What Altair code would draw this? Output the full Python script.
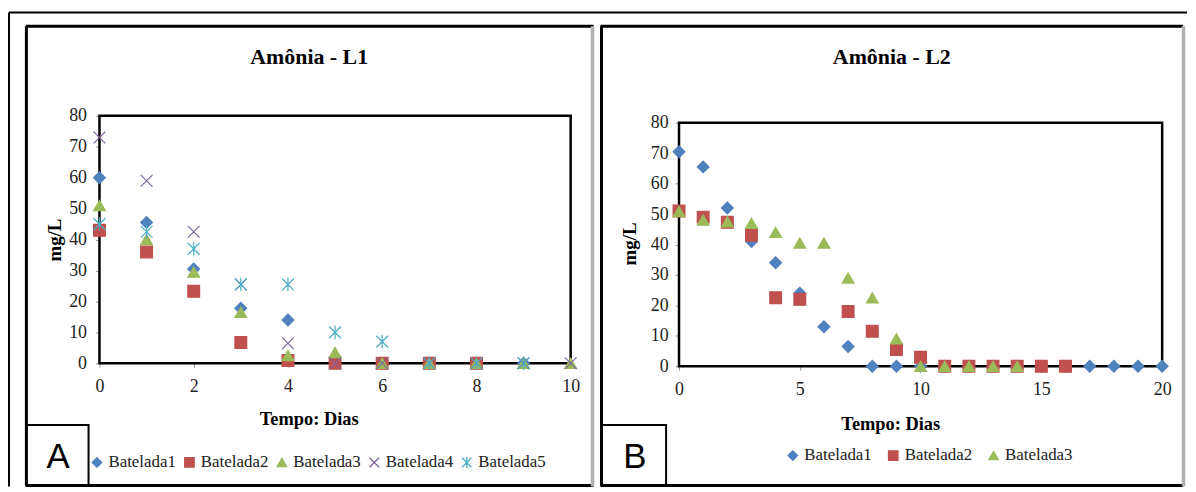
import altair as alt
import pandas as pd

# ---------------- data ----------------
series_a = ["Batelada1", "Batelada2", "Batelada3", "Batelada4", "Batelada5"]
series_b = ["Batelada1", "Batelada2", "Batelada3"]
colors = ["#4F81BD", "#C0504D", "#9BBB59", "#8064A2", "#4BACC6"]
shapes = ["diamond", "square", "triangle-up",
          "M-1,-1L1,1M-1,1L1,-1",
          "M-1,-1L1,1M-1,1L1,-1M0,-1.15L0,1.15"]

dias_a = [0, 1, 2, 3, 4, 5, 6, 7, 8, 9, 10]
a_bat1 = [60, 45.5, 30.5, 17.8, 14, 2, 0, 0, 0, 0, None]
a_bat2 = [43, 36, 23.3, 6.7, 0.9, 0, 0, 0, 0, None, None]
a_bat3 = [51, 40, 29.5, 16.5, 2.5, 3.5, 0, 0, 0, 0, 0]
a_bat4 = [73, 59, 42.5, 25.5, 6.5, 0, 0, 0, 0, 0, 0]
a_bat5 = [45, 42.5, 37, 25.5, 25.5, 10, 7, 0, 0, 0, None]

dias_b = [0, 1, 2, 3, 4, 5, 6, 7, 8, 9, 10, 11, 12, 13, 14, 15, 16, 17, 18, 19, 20]
b_bat1 = [70.5, 65.5, 52, 41, 34, 24, 13, 6.5, 0, 0, 0, 0, 0, 0, 0, 0, 0, 0, 0, 0, 0]
b_bat2 = [51, 49, 47.3, 43, 22.5, 22, None, 18, 11.5, 5.5, 3, 0, 0, 0, 0, 0, 0, None, None, None, None]
b_bat3 = [50.8, 48, 47.5, 47, 44, 40.5, 40.5, 29, 22.5, 9, 0, 0, 0, 0, 0, None, None, None, None, None, None]

ticks_x_a = [0, 2, 4, 6, 8, 10]
ticks_x_b = [0, 5, 10, 15, 20]
ticks_y = [0, 10, 20, 30, 40, 50, 60, 70, 80]

title_a = "Amônia - L1"
title_b = "Amônia - L2"
x_title = "Tempo: Dias"
y_title = "mg/L"


def long_df(days, names, cols):
    rows = []
    for name, vals in zip(names, cols):
        for d, v in zip(days, vals):
            if v is not None:
                rows.append({"dia": d, "valor": v, "serie": name})
    return pd.DataFrame(rows)


df_a = long_df(dias_a, series_a, [a_bat1, a_bat2, a_bat3, a_bat4, a_bat5])
df_b = long_df(dias_b, series_b, [b_bat1, b_bat2, b_bat3])

one = pd.DataFrame({"k": [0]})
SERIF = "Liberation Serif"


def hline(x1, x2, y, color="black", w=2.0):
    return alt.Chart(one).mark_rule(color=color, strokeWidth=w).encode(
        x=alt.value(x1), x2=alt.value(x2), y=alt.value(y))


def vline(x, y1, y2, color="black", w=2.0):
    return alt.Chart(one).mark_rule(color=color, strokeWidth=w).encode(
        x=alt.value(x), y=alt.value(y1), y2=alt.value(y2))


def box(x1, x2, y1, y2, w=2.0):
    return alt.Chart(one).mark_rect(filled=False, stroke="black", strokeWidth=w).encode(
        x=alt.value(x1), x2=alt.value(x2), y=alt.value(y1), y2=alt.value(y2))


def text(txt, x, y, size, bold=False, angle=0, font=SERIF, baseline="middle"):
    kw = dict(font=font, fontSize=size, fontWeight="bold" if bold else "normal",
              align="center", baseline=baseline, color="black")
    if angle:
        kw["angle"] = angle
    return alt.Chart(pd.DataFrame({"t": [txt]})).mark_text(**kw).encode(
        text="t:N", x=alt.value(x), y=alt.value(y))


def points(df, names, width, height, yrange, xmax, xticks, ypad, legx, legy, colpad):
    cscale = alt.Scale(domain=names, range=colors[:len(names)])
    sscale = alt.Scale(domain=names, range=shapes[:len(names)])
    leg = alt.Legend(title=None, orient="none", legendX=legx, legendY=legy,
                     direction="horizontal", columns=len(names), columnPadding=colpad,
                     labelFont=SERIF, labelFontSize=17, labelColor="#222",
                     symbolSize=90, symbolStrokeWidth=1.3, labelOffset=3, padding=0)
    return alt.Chart(df).mark_point(filled=True, size=140, strokeWidth=1.2, opacity=1).encode(
        x=alt.X("dia:Q", scale=alt.Scale(domain=[0, xmax], nice=False, zero=False),
                axis=alt.Axis(values=xticks, title=None, domain=False, grid=False,
                              tickColor="#999", tickSize=4, tickWidth=1,
                              labelFont=SERIF, labelFontSize=18, labelColor="#222",
                              labelPadding=10, labelFlush=False, labelOverlap=False)),
        y=alt.Y("valor:Q", scale=alt.Scale(domain=[0, 80], nice=False, range=yrange),
                axis=alt.Axis(values=ticks_y, title=None, domain=False, grid=False,
                              tickColor="#999", tickSize=4, tickWidth=1,
                              labelFont=SERIF, labelFontSize=18, labelColor="#222",
                              labelPadding=ypad, labelFlush=False, labelOverlap=False)),
        color=alt.Color("serie:N", scale=cscale, legend=leg),
        stroke=alt.Stroke("serie:N", scale=cscale, legend=leg),
        shape=alt.Shape("serie:N", scale=sscale, legend=leg),
    ).properties(width=width, height=height)


# ---------------- panel A (origin at page 100,115) ----------------
WA, HA = 474, 249
OXA, OYA = 100, 115

pa = points(df_a, series_a, WA, HA, [HA, 0], 10, ticks_x_a, 9,
            legx=-11, legy=340, colpad=5)

deco_a = [
    # outer frame
    hline(9 - OXA, 1194 - OXA, 11 - OYA, w=2),
    vline(9 - OXA, 11 - OYA, 488 - OYA, w=2),
    # panel box
    hline(26 - OXA, 597 - OXA, 25 - OYA, w=3),
    vline(26.5 - OXA, 25 - OYA, 487 - OYA, w=3),
    hline(26 - OXA, 597 - OXA, 487 - OYA, w=3),
    vline(596 - OXA, 25 - OYA, 488 - OYA, color="#b0b0b0", w=3.5),
    # plot frame
    box(0, WA, 0, HA, w=2.5),
    # label box
    box(26.5 - OXA, 89 - OXA, 426 - OYA, 487 - OYA, w=2),
    text("A", 58.5 - OXA, 458 - OYA, 35, font="Liberation Sans"),
    text(title_a, 311 - OXA, 56 - OYA, 22, bold=True),
    text(x_title, 311 - OXA, 420 - OYA, 18.5, bold=True),
    text(y_title, 55 - OXA, 240 - OYA, 19, bold=True, angle=270),
]
chart_a = alt.layer(*deco_a, pa)

# ---------------- panel B (origin at page 683,115) ----------------
WB, HB = 486, 252
OXB, OYB = 683, 115

pb = points(df_b, series_b, WB, HB, [HB, 7], 20, ticks_x_b, 7,
            legx=789 - OXB, legy=448 - OYB, colpad=13)

deco_b = [
    hline(604 - OXB, 1190 - OXB, 25 - OYB, w=3),
    vline(605 - OXB, 25 - OYB, 487 - OYB, w=3),
    hline(604 - OXB, 1190 - OXB, 487 - OYB, w=3),
    vline(1190.5 - OXB, 25 - OYB, 488 - OYB, color="#b0b0b0", w=3.5),
    box(0, WB, 7, HB, w=2.5),
    box(605 - OXB, 670 - OXB, 426 - OYB, 487 - OYB, w=2),
    text("B", 638.5 - OXB, 458 - OYB, 35, font="Liberation Sans"),
    text(title_b, 897 - OXB, 56 - OYB, 22, bold=True),
    text(x_title, 896 - OXB, 425 - OYB, 18.5, bold=True),
    text(y_title, 634 - OXB, 244 - OYB, 19, bold=True, angle=270),
]
chart_b = alt.layer(*deco_b, pb)

chart = alt.hconcat(chart_a, chart_b, spacing=OXB - (OXA + WA), bounds="flush").resolve_scale(
    color="independent", stroke="independent", shape="independent"
).properties(
    padding={"left": 0, "top": 2, "right": 0, "bottom": 0},
    background="white",
).configure_view(strokeWidth=0).configure_legend(
    labelFont=SERIF, labelFontSize=17, labelColor="#222"
).configure_axis(labelFont=SERIF)

chart.save("out.html", embed_options={"renderer": "svg", "actions": False})
